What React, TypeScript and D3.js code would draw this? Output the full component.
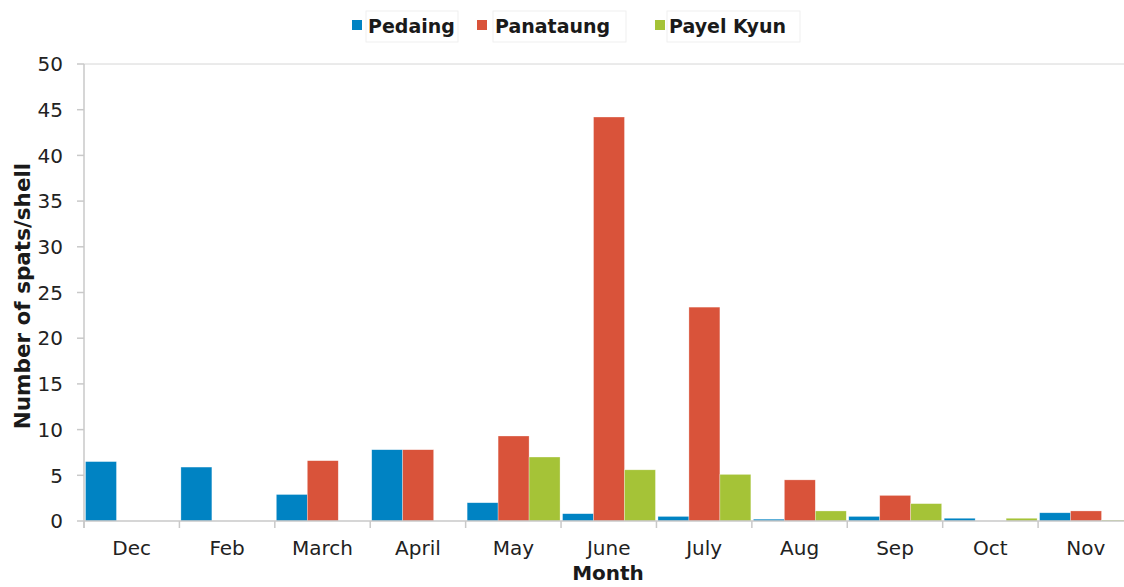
import * as d3 from 'd3';

const months = ['Dec', 'Feb', 'March', 'April', 'May', 'June', 'July', 'Aug', 'Sep', 'Oct', 'Nov'];
const seriesNames = ['Pedaing', 'Panataung', 'Payel Kyun'];
const pedaing = [6.5, 5.9, 2.9, 7.8, 2.0, 0.8, 0.5, 0.2, 0.5, 0.3, 0.9];
const panataung = [0, 0, 6.6, 7.8, 9.3, 44.2, 23.4, 4.5, 2.8, 0, 1.1];
const payelKyun = [0, 0, 0, 0, 7.0, 5.6, 5.1, 1.1, 1.9, 0.3, 0.1];
const yTicks = [0, 5, 10, 15, 20, 25, 30, 35, 40, 45, 50];
const colors = ['#0083c3', '#d9533a', '#a5c337'];

const W = 1124;
const H = 587;
const font = 'DejaVu Sans, Verdana, sans-serif';

export default function App() {
  const values = [pedaing, panataung, payelKyun];
  const left = 84;
  const right = 1133.5;
  const top = 64;
  const bottom = 521;

  const x = d3.scaleBand<string>().domain(months).range([left, right]).padding(0);
  const sub = d3.scaleBand<string>().domain(seriesNames).range([1.5, x.bandwidth() - 1]).padding(0);
  const y = d3.scaleLinear().domain([0, 50]).range([bottom, top]);
  const axisColor = '#c9c9c9';

  // legend layout
  const legend = [
    { sq: 352, tx: 368, box: [366, 458] },
    { sq: 477, tx: 495, box: [493, 626] },
    { sq: 655, tx: 669, box: [667, 800] },
  ];

  return (
    <svg width={W} height={H} style={{ position: 'absolute', left: 0, top: 0, background: '#fff' }} fontFamily={font}>
      {/* legend */}
      {seriesNames.map((s, i) => (
        <g key={s}>
          <rect x={legend[i].box[0]} y={11} width={legend[i].box[1] - legend[i].box[0]} height={31} fill="#fff" stroke="#ececec" strokeWidth={0.8} />
          <rect x={legend[i].sq} y={20} width={10} height={10} fill={colors[i]} />
          <text x={legend[i].tx} y={33} fontSize={19} fontWeight="bold" fill="#1a1a1a">{s}</text>
        </g>
      ))}

      {/* top border line */}
      <line x1={left} x2={W} y1={top} y2={top} stroke="#d6d6d6" strokeWidth={1} />

      {/* bars */}
      {months.map((m, mi) => (
        <g key={m} transform={`translate(${x(m)},0)`}>
          {seriesNames.map((s, si) => {
            const v = values[si][mi];
            if (v <= 0) return null;
            return (
              <rect key={s} x={sub(s)} y={y(v)} width={sub.bandwidth()} height={bottom - y(v)}
                fill={colors[si]} stroke="#fff" strokeOpacity={0.5} strokeWidth={0.6} />
            );
          })}
        </g>
      ))}

      {/* y axis */}
      <line x1={left} x2={left} y1={top} y2={bottom + 7} stroke={axisColor} strokeWidth={1.5} />
      {yTicks.map(t => (
        <g key={t}>
          <line x1={left - 7} x2={left} y1={y(t)} y2={y(t)} stroke={axisColor} strokeWidth={1.5} />
          <text x={63} y={y(t)} dy="0.36em" textAnchor="end" fontSize={20} fill="#222">{t}</text>
        </g>
      ))}

      {/* x axis */}
      <line x1={left} x2={W} y1={bottom} y2={bottom} stroke={axisColor} strokeWidth={1.5} />
      {months.map(m => (
        <g key={m}>
          <line x1={x(m)!} x2={x(m)!} y1={bottom} y2={bottom + 7} stroke={axisColor} strokeWidth={1.5} />
          <text x={x(m)! + x.bandwidth() / 2} y={555} textAnchor="middle" fontSize={20} fill="#222">{m}</text>
        </g>
      ))}

      {/* axis titles */}
      <text x={608} y={580} textAnchor="middle" fontSize={20} fontWeight="bold" fill="#1a1a1a">Month</text>
      <text transform={`translate(30,${(162 + 430) / 2}) rotate(-90)`} textAnchor="middle" fontSize={21.5} fontWeight="bold" fill="#1a1a1a">Number of spats/shell</text>
    </svg>
  );
}
